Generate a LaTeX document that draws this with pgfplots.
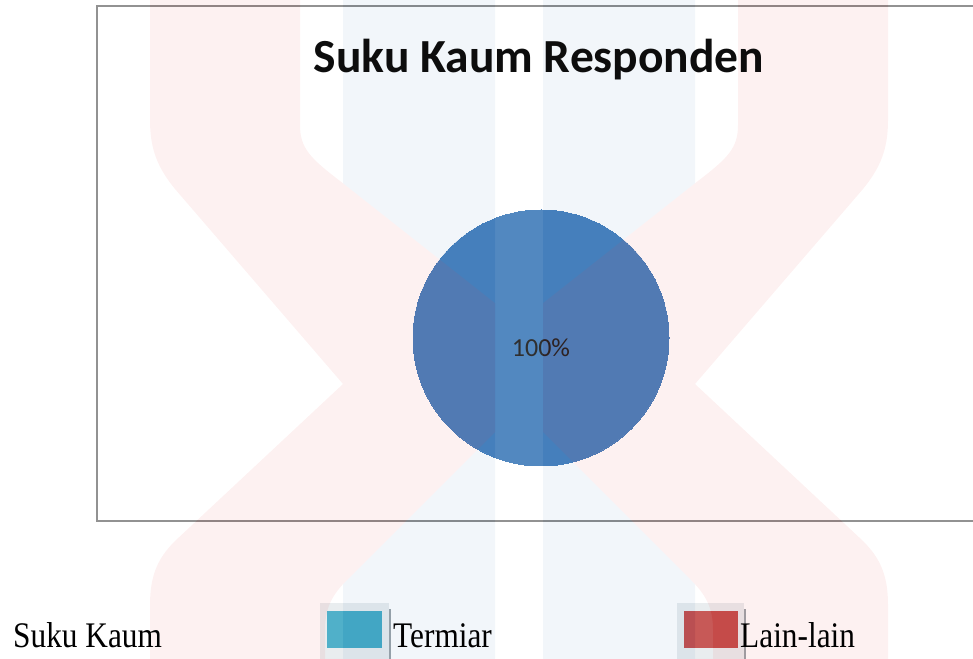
\documentclass[border=0pt]{standalone}
\usepackage{pgfplots}
\pgfplotsset{compat=1.18}
\usepackage{pgfplotstable}
\usepackage{fontspec}
\setmainfont{Liberation Serif}
\newfontfamily\calibri{Carlito}
\definecolor{pieblue}{HTML}{457FBC}
\definecolor{termiar}{HTML}{42AAC5}
\definecolor{lainlain}{HTML}{C34C4A}
\definecolor{framegray}{HTML}{8A8A8A}
\definecolor{wmblue}{HTML}{4F81BD}
\definecolor{wmred}{HTML}{E84545}
\definecolor{boxgray}{HTML}{E8ECEE}
\definecolor{shadowgray}{HTML}{9AA3A8}

% one slice only: every respondent is Termiar
\pgfplotstableread{
x y share
0 0 100
}\sukutable

\begin{document}
\begin{tikzpicture}
\useasboundingbox (0,0) rectangle (973pt,658pt);
\clip (0,0) rectangle (973pt,658pt);

% chart frame (cut off at the right)
\draw[framegray, line width=1.6pt] (97pt,137pt) rectangle (995pt,652pt);

\begin{axis}[
    at={(541pt,320pt)}, anchor=center,
    width=256pt, height=256pt, scale only axis,
    xmin=-1, xmax=1, ymin=-1, ymax=1,
    hide axis, clip=false,
]
\addplot[pieblue, only marks, mark=*, mark size=128pt,
    mark options={fill=pieblue, draw=pieblue, line width=0pt},
    point meta=explicit,
    nodes near coords={\pgfmathprintnumber[assume math mode=true]{\pgfplotspointmeta}\%},
    every node near coord/.append style={anchor=base, yshift=-19pt,
        font=\calibri\fontsize{26}{30}\selectfont, text=black!88},
] table[x=x, y=y, meta=share] {\sukutable};
\end{axis}

% picture coordinates from here on: pixels, y downwards
\begin{scope}[x=1pt, yshift=658pt, y=-1pt]
% legend boxes of the document text
\fill[boxgray] (320,603) rectangle (389,665);
\fill[shadowgray] (388.5,609) rectangle (391,665);
\fill[termiar] (327,611) rectangle (382,648);
\fill[boxgray] (677,603) rectangle (744,665);
\fill[shadowgray] (743.5,609) rectangle (746,665);
\fill[lainlain] (684,611) rectangle (738,648);

% faint watermark lying over the page
\begin{scope}[transparency group, opacity=0.075]
\fill[white] (0,0) rectangle (973,658);
\fill[wmblue] (343,-5) rectangle (495,663);
\fill[wmblue] (543,-5) rectangle (695,663);
\begin{scope}
\clip (-5,-5) rectangle (495,663);
\fill[wmred] (150,-5) -- (150,120) .. controls (150,150) and (158,168) .. (175,189)
    -- (343,384) -- (175,541) .. controls (158,558) and (150,575) .. (150,605)
    -- (150,663) -- (325,663) -- (325,630) .. controls (325,608) and (332,595) .. (347,580)
    -- (567,360) -- (340,181) .. controls (310,158) and (300,148) .. (300,125)
    -- (300,-5) -- cycle;
\end{scope}
\begin{scope}
\clip (543,-5) rectangle (978,663);
\fill[wmred] (888,-5) -- (888,120) .. controls (888,150) and (880,168) .. (863,189)
    -- (695,384) -- (863,541) .. controls (880,558) and (888,575) .. (888,605)
    -- (888,663) -- (713,663) -- (713,630) .. controls (713,608) and (706,595) .. (691,580)
    -- (471,360) -- (698,181) .. controls (728,158) and (738,148) .. (738,125)
    -- (738,-5) -- cycle;
\end{scope}
\end{scope}

% title
\node[anchor=base, inner sep=0pt, text=black!95] at (539,73)
    {\calibri\bfseries\fontsize{47.5}{52}\selectfont Suku Kaum Responden};

% line of document text below the chart
\node[anchor=base west, inner sep=0pt] at (13,647)
    {\scalebox{0.87}[1]{\fontsize{36}{40}\selectfont Suku Kaum}};
\node[anchor=base west, inner sep=0pt] at (393,647)
    {\scalebox{0.87}[1]{\fontsize{36}{40}\selectfont Termiar}};
\node[anchor=base west, inner sep=0pt] at (740,647)
    {\scalebox{0.87}[1]{\fontsize{36}{40}\selectfont Lain-lain}};
\end{scope}
\end{tikzpicture}
\end{document}
